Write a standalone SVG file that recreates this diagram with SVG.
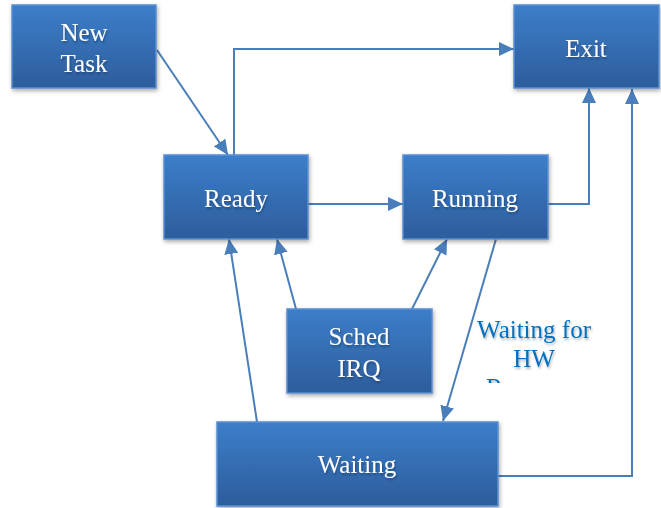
<svg xmlns="http://www.w3.org/2000/svg" width="661" height="508" viewBox="0 0 661 508">
  <defs>
    <linearGradient id="boxGrad" x1="0" y1="0" x2="0" y2="1">
      <stop offset="0" stop-color="#3C7ECA"/>
      <stop offset="1" stop-color="#2D5D9C"/>
    </linearGradient>
    <filter id="boxShadow" x="-10%" y="-10%" width="125%" height="130%">
      <feDropShadow dx="1" dy="2" stdDeviation="2" flood-color="#000" flood-opacity="0.35"/>
    </filter>
    <filter id="textShadow" x="-10%" y="-20%" width="130%" height="150%">
      <feDropShadow dx="1" dy="2" stdDeviation="1.2" flood-color="#000" flood-opacity="0.3"/>
    </filter>
    <marker id="arrow" markerUnits="userSpaceOnUse" markerWidth="16" markerHeight="14" refX="15" refY="7" orient="auto">
      <path d="M0,0 L15,7 L0,14 z" fill="#4A7EBB"/>
    </marker>
    <clipPath id="labelClip">
      <rect x="440" y="300" width="200" height="83"/>
    </clipPath>
  </defs>
  <style>
    .box { fill: url(#boxGrad); stroke: #5A8FD2; stroke-width: 1.5; filter: url(#boxShadow); }
    .lbl { font-family: "Liberation Serif", "Times New Roman", serif; font-size: 25px; fill: #FFFFFF; text-anchor: middle; filter: url(#textShadow); }
    .edge { fill: none; stroke: #4A7EBB; stroke-width: 2; marker-end: url(#arrow); }
    .note { font-family: "Liberation Serif", "Times New Roman", serif; font-size: 25px; fill: #0070C0; text-anchor: middle; filter: url(#textShadow); }
  </style>

  <g id="connectors">
    <path class="edge" d="M157,50 L228,155"/>
    <path class="edge" d="M234,155 V49 H514"/>
    <path class="edge" d="M308,204 H403"/>
    <path class="edge" d="M548,204 H589 V88"/>
    <path class="edge" d="M498,476 H632 V89"/>
    <path class="edge" d="M257,422 L229,239"/>
    <path class="edge" d="M296,309 L277,239"/>
    <path class="edge" d="M412,309 L447,239"/>
    <path class="edge" d="M496,239 L443,421"/>
  </g>

  <g id="node-newtask">
    <rect class="box" x="12" y="5" width="144" height="83"/>
    <text class="lbl" x="84" y="41">New</text>
    <text class="lbl" x="84" y="72">Task</text>
  </g>
  <g id="node-exit">
    <rect class="box" x="514" y="5" width="145" height="83"/>
    <text class="lbl" x="586" y="57">Exit</text>
  </g>
  <g id="node-ready">
    <rect class="box" x="164" y="155" width="144" height="84"/>
    <text class="lbl" x="236" y="207">Ready</text>
  </g>
  <g id="node-running">
    <rect class="box" x="403" y="155" width="145" height="84"/>
    <text class="lbl" x="475" y="207">Running</text>
  </g>
  <g id="node-sched">
    <rect class="box" x="287" y="309" width="145" height="84"/>
    <text class="lbl" x="359" y="345">Sched</text>
    <text class="lbl" x="359" y="377">IRQ</text>
  </g>
  <g id="node-waiting">
    <rect class="box" x="217" y="422" width="281" height="84"/>
    <text class="lbl" x="357" y="473">Waiting</text>
  </g>

  <g id="label-waiting-hw" clip-path="url(#labelClip)">
    <text class="note" x="534" y="338">Waiting for</text>
    <text class="note" x="534" y="367">HW</text>
    <text class="note" x="534" y="396">Response</text>
  </g>
</svg>
